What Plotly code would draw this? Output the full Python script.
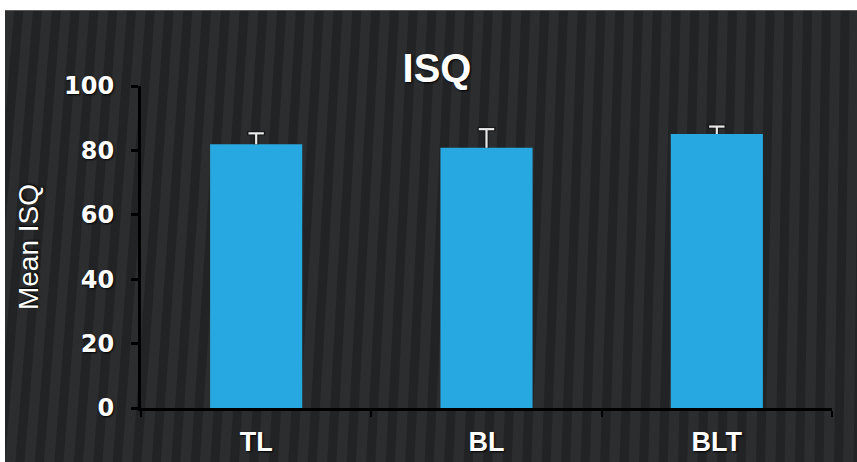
import plotly.graph_objects as go

categories = ["TL", "BL", "BLT"]
mean_isq = [81.9, 80.8, 85.1]
err_plus = [3.4, 5.8, 2.3]
y_ticks = [0, 20, 40, 60, 80, 100]

W, H = 857, 462
L, R, T, B = 141, 25, 86, 54
pw, ph = W - L - R, H - T - B

def px(xp):
    return (xp - L) / pw

def py(yp):
    return (H - B - yp) / ph

fig = go.Figure()
fig.add_trace(go.Bar(
    x=categories, y=mean_isq, width=0.4,
    marker=dict(color="#27a8e0", line=dict(width=0)),
))

# upward-only error bars: stems from bar top to mean + error, with a cap
stem_x, stem_y = [], []
for c, m, e in zip(categories, mean_isq, err_plus):
    stem_x += [c, c, None]
    stem_y += [m, m + e, None]
cap_y = [m + e for m, e in zip(mean_isq, err_plus)]

dark = "rgba(20,20,20,0.8)"
light = "#e8e8e8"
fig.add_trace(go.Scatter(x=stem_x, y=stem_y, mode="lines",
                         line=dict(color=dark, width=4.5), hoverinfo="skip"))
fig.add_trace(go.Scatter(x=categories, y=cap_y, mode="markers",
                         marker=dict(symbol="line-ew-open", size=13, color=dark,
                                     line=dict(color=dark, width=4.5)),
                         hoverinfo="skip"))
fig.add_trace(go.Scatter(x=stem_x, y=stem_y, mode="lines",
                         line=dict(color=light, width=2.2), hoverinfo="skip"))
fig.add_trace(go.Scatter(x=categories, y=cap_y, mode="markers",
                         marker=dict(symbol="line-ew-open", size=11, color=light,
                                     line=dict(color=light, width=2.2)),
                         hoverinfo="skip"))

shapes = []
# background stripes (decoration)
for i in range(-3, 47):
    x0 = i * 19.5
    dx = 32 * (1 - x0 / W) + 6
    shapes.append(dict(type="line", xref="paper", yref="paper",
                       x0=px(x0), x1=px(x0 + dx), y0=py(H + 5), y1=py(5),
                       line=dict(color="rgba(15,15,17,0.33)", width=9), layer="below"))
# white page margins
shapes.append(dict(type="rect", xref="paper", yref="paper", x0=px(-5), x1=px(W + 5),
                   y0=py(10), y1=py(-5), fillcolor="white", line=dict(width=0), layer="below"))
shapes.append(dict(type="rect", xref="paper", yref="paper", x0=px(-5), x1=px(5),
                   y0=py(H + 5), y1=py(-5), fillcolor="white", line=dict(width=0), layer="below"))
shapes.append(dict(type="line", xref="paper", yref="paper", x0=px(5), x1=px(W + 5),
                   y0=py(10.5), y1=py(10.5), line=dict(color="#5a5a5a", width=1), layer="below"))

shadow = "1px 1px 2px #000"
tickfont_y = dict(family="DejaVu Sans", size=24, color="white", weight="bold", shadow=shadow)
tickfont_x = dict(family="Liberation Sans", size=27, color="white",
                  weight="bold", shadow=shadow)

fig.update_layout(
    template="none",
    width=W, height=H,
    margin=dict(l=L, r=R, t=T, b=B, pad=0, autoexpand=False),
    paper_bgcolor="#2c2d2f",
    plot_bgcolor="rgba(0,0,0,0)",
    showlegend=False,
    shapes=shapes,
    title=dict(text="<b>ISQ</b>", x=437 / W, xanchor="center", y=1 - 68 / H, yanchor="middle",
               font=dict(family="Liberation Sans", size=40, color="white", shadow=shadow)),
    xaxis=dict(showline=True, linecolor="black", linewidth=3, ticks="outside",
               tickson="boundaries", ticklen=6, tickwidth=2, tickcolor="black",
               tickfont=tickfont_x, ticklabelstandoff=8, showgrid=False, zeroline=False,
               automargin=False, range=[-0.5, 2.5]),
    yaxis=dict(range=[0, 100], tickvals=y_ticks, showline=True, linecolor="black",
               linewidth=3, ticks="outside", ticklen=7, tickwidth=3, tickcolor="black",
               tickfont=tickfont_y, ticklabelstandoff=12, showgrid=False, zeroline=False,
               automargin=False,
               title=dict(text="Mean ISQ", standoff=18,
                          font=dict(family="Liberation Sans", size=28, color="white",
                                    shadow=shadow))),
)

fig.write_html("out.html", config={"displayModeBar": False},
               post_script="document.body.style.margin='0';document.body.style.overflow='hidden';")
